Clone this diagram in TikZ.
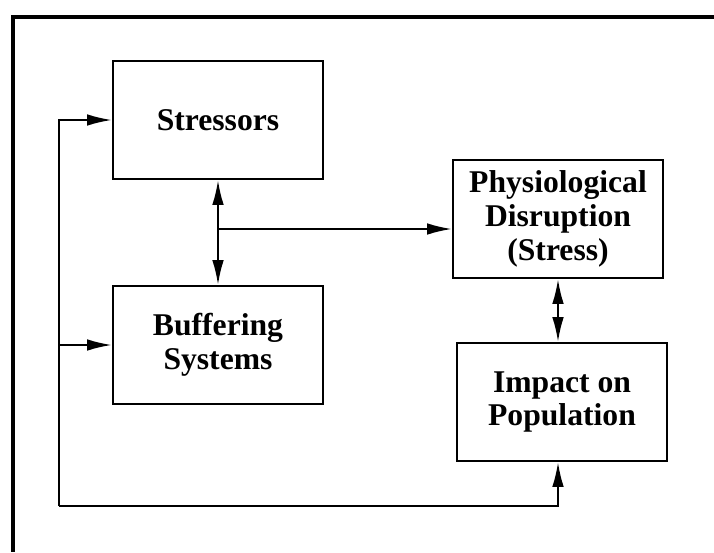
\documentclass[tikz,border=0pt]{standalone}
\usepackage{fontspec}
\setmainfont{Liberation Serif}
\usetikzlibrary{positioning, arrows.meta, calc}

\begin{document}
\begin{tikzpicture}[x=0.025cm, y=-0.025cm,
  box/.style={rectangle, draw=black, line width=1.5pt, minimum width=5.25cm, minimum height=2.95cm, align=center, inner sep=2pt, font=\bfseries\fontsize{22.5}{24}\selectfont},
  frame/.style={line width=2.2pt},
  arrow/.style={-{Latex[length=6.2mm, width=2.9mm]}, line width=1.5pt},
  dblarrow/.style={{Latex[length=6.2mm, width=2.9mm]}-{Latex[length=6.2mm, width=2.9mm]}, line width=1.5pt}
]
  \useasboundingbox (0,0) rectangle (714,552);

  % outer frame, open at right and bottom
  \draw[frame] (714,17) -- (13,17) -- (13,552);

  \node[box] (stress) at (218,120) {Stressors};
  \node[box] (buffer) at (218,345) {Buffering\\Systems};
  \node[box] (physio) at (558,219) {Physiological\\Disruption\\(Stress)};
  \node[box] (impact) at (562,402) {Impact on\\Population};

  \coordinate (split) at (218,229);
  \coordinate (loop) at (59,506);

  \draw[dblarrow] (stress) -- (buffer);
  \draw[arrow] (split) -- (split -| physio.west);
  \draw[dblarrow] (physio.south) -- (physio.south |- impact.north);

  % feedback loop
  \draw[arrow] (loop) -| (physio.south |- impact.south);
  \draw[arrow] (loop) |- (stress.west);
  \draw[arrow] (loop |- buffer.west) -- (buffer.west);
\end{tikzpicture}
\end{document}
